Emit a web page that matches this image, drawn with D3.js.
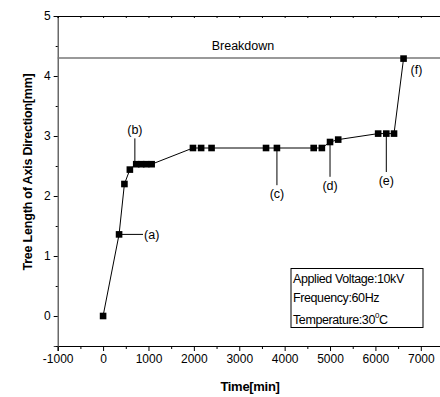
<!DOCTYPE html>
<html>
<head>
<meta charset="utf-8">
<script src="https://cdn.jsdelivr.net/npm/d3@7"></script>
<style>
  body { margin: 0; background: #fff; }
  svg { display: block; font-family: "Liberation Sans", Arial, sans-serif; }
</style>
</head>
<body>
<svg id="chart" width="440" height="397"></svg>
<script>
// measured points
const timeMin = [0, 352, 470, 590, 730, 840, 950, 1070, 1980, 2160, 2390, 3590, 3830, 4640, 4820, 5000, 5180, 6060, 6240, 6410, 6620];
const treeLen = [0, 1.36, 2.2, 2.44, 2.53, 2.53, 2.53, 2.53, 2.8, 2.8, 2.8, 2.8, 2.8, 2.8, 2.8, 2.9, 2.94, 3.04, 3.04, 3.04, 4.29];
const breakdownLevel = 4.3;

// annotation leaders: label, anchor point, leader end
const noteLabels = ['(a)', '(b)', '(c)', '(d)', '(e)'];
const noteAnchorX = [352, 700, 3830, 5000, 6240];
const noteAnchorY = [1.36, 2.53, 2.8, 2.9, 3.04];
const noteEndX = [880, 700, 3830, 5000, 6240];
const noteEndY = [1.36, 2.96, 2.18, 2.32, 2.4];

const xTicks = [-1000, 0, 1000, 2000, 3000, 4000, 5000, 6000, 7000];
const yTicks = [0, 1, 2, 3, 4, 5];
const infoLines = ['Applied Voltage:10kV', 'Frequency:60Hz'];

const svg = d3.select('#chart');
const x = d3.scaleLinear().domain([-1000, 7500]).range([57.7, 443.5]);
const y = d3.scaleLinear().domain([-0.5, 5]).range([346, 16]);
const fmt = d => String(d);

const minorX = d3.range(-1000, 7500, 500).filter(d => d % 1000 !== 0);
const minorY = d3.range(-0.5, 5, 1);

// axes
svg.append('g').attr('transform', `translate(0,${y(-0.5)})`)
    .call(d3.axisBottom(x).tickValues(xTicks).tickSize(5).tickPadding(3).tickFormat(fmt));
svg.append('g').attr('transform', `translate(0,${y(-0.5)})`)
    .call(d3.axisBottom(x).tickValues(minorX).tickSize(3).tickFormat(''))
    .select('.domain').remove();
const gLeft = svg.append('g').attr('transform', `translate(${x(-1000)},0)`)
    .call(d3.axisLeft(y).tickValues(yTicks).tickSize(4).tickPadding(3).tickFormat(fmt));
svg.append('g').attr('transform', `translate(${x(-1000)},0)`)
    .call(d3.axisLeft(y).tickValues(minorY).tickSize(2).tickFormat(''))
    .select('.domain').remove();
svg.append('g').attr('transform', `translate(0,${y(5)})`)
    .call(d3.axisTop(x).tickValues(xTicks.concat(minorX)).tickSize(-2).tickFormat(''));
svg.selectAll('.domain').attr('stroke', '#000').attr('stroke-width', 1.2);
svg.selectAll('.tick line').attr('stroke', '#000');
svg.selectAll('.tick text').attr('font-size', 12).attr('fill', '#000')
    .attr('font-family', '"Liberation Sans", Arial, sans-serif');
gLeft.select('.domain').attr('stroke', '#444');

// breakdown line
svg.append('line')
    .attr('x1', x(-1000)).attr('x2', x(7500))
    .attr('y1', y(breakdownLevel)).attr('y2', y(breakdownLevel))
    .attr('stroke', '#777').attr('stroke-width', 1.5);
svg.append('text').attr('x', 243).attr('y', y(breakdownLevel) - 8)
    .attr('text-anchor', 'middle').attr('font-size', 12.5).attr('fill', '#000').text('Breakdown');

// series
const pts = timeMin.map((t, i) => [t, treeLen[i]]);
svg.append('path').datum(pts)
    .attr('fill', 'none').attr('stroke', '#000').attr('stroke-width', 1)
    .attr('d', d3.line().x(d => x(d[0])).y(d => y(d[1])));
svg.selectAll('rect.pt').data(pts).join('rect').attr('class', 'pt')
    .attr('x', d => x(d[0]) - 3.3).attr('y', d => y(d[1]) - 3.3)
    .attr('width', 6.6).attr('height', 6.6).attr('fill', '#000');

// annotations
noteLabels.forEach((lab, i) => {
  svg.append('line')
      .attr('x1', x(noteAnchorX[i])).attr('y1', y(noteAnchorY[i]))
      .attr('x2', x(noteEndX[i])).attr('y2', y(noteEndY[i]))
      .attr('stroke', '#000').attr('stroke-width', 1);
  const t = svg.append('text').attr('font-size', 12.5).attr('fill', '#000').text(lab);
  if (noteEndX[i] !== noteAnchorX[i]) {
    t.attr('x', x(noteEndX[i]) + 1).attr('y', y(noteEndY[i]) + 4.5);
  } else if (noteEndY[i] > noteAnchorY[i]) {
    t.attr('x', x(noteEndX[i])).attr('y', y(noteEndY[i]) - 4).attr('text-anchor', 'middle');
  } else {
    t.attr('x', x(noteEndX[i])).attr('y', y(noteEndY[i]) + 13).attr('text-anchor', 'middle');
  }
});
const last = pts[pts.length - 1];
svg.append('text').attr('x', x(last[0]) + 7).attr('y', y(last[1]) + 15)
    .attr('font-size', 12.5).attr('fill', '#000').text('(f)');

// info box
svg.append('rect').attr('x', 291).attr('y', 268.5).attr('width', 132).attr('height', 59)
    .attr('fill', '#fff').attr('stroke', '#000').attr('stroke-width', 1);
infoLines.forEach((s, i) => {
  svg.append('text').attr('x', 293).attr('y', 283 + i * 19)
      .attr('font-size', 12.5).attr('letter-spacing', -0.4).text(s);
});
const temp = svg.append('text').attr('x', 293).attr('y', 323.5)
    .attr('font-size', 12.5).attr('letter-spacing', -0.4);
temp.append('tspan').text('Temperature:30');
temp.append('tspan').attr('font-size', 8).attr('dy', -6).text('0');
temp.append('tspan').attr('dy', 6).text('C');

// axis titles
svg.append('text').attr('x', 250).attr('y', 391)
    .attr('text-anchor', 'middle').attr('font-weight', 'bold').attr('font-size', 13)
    .attr('letter-spacing', -0.3).text('Time[min]');
svg.append('text').attr('transform', 'translate(32,172) rotate(-90)')
    .attr('text-anchor', 'middle').attr('font-weight', 'bold').attr('font-size', 12.5)
    .attr('letter-spacing', -0.2)
    .text('Tree Length of Axis Direction[mm]');
</script>
</body>
</html>
